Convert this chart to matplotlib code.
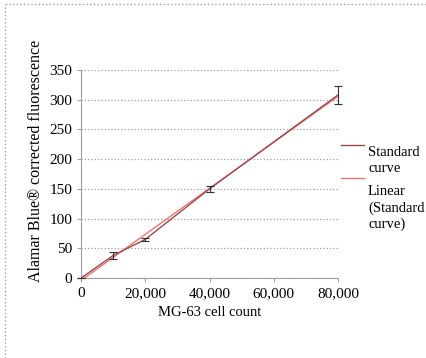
import numpy as np
import matplotlib.pyplot as plt
from matplotlib.lines import Line2D

plt.rcParams['font.family'] = ['Liberation Serif', 'DejaVu Serif']

# data
cells = [0, 10000, 20000, 40000, 80000]
fluor = [0, 38, 65, 150, 308]
err = [0, 6, 3, 5, 15]

# linear trendline fitted to the points
slope, icpt = np.polyfit(cells, fluor, 1)
fit_x = np.array([cells[0], cells[-1]])
fit_y = slope * fit_x + icpt

fig = plt.figure(figsize=(4.27, 3.58), dpi=100)
ax = fig.add_axes([0.19, 0.2235, 0.6016, 0.581])

ax.plot(cells, fluor, color='#9c4a4c', lw=1.0, label='Standard\ncurve', zorder=3)
eb = ax.errorbar(cells, fluor, yerr=err, fmt='none', ecolor='#333333', elinewidth=0.8,
                 capsize=3, capthick=0.8, zorder=4)
for art in eb.lines[1] + eb.lines[2]:
    art.set_clip_on(False)
ax.plot(fit_x, fit_y, color='#f27272', lw=1.0, label='Linear\n(Standard\ncurve)', zorder=2)

ax.set_xlim(0, 80000)
ax.set_ylim(0, 350)
ax.set_xticks([0, 20000, 40000, 60000, 80000])
ax.set_xticklabels(['0', '20,000', '40,000', '60,000', '80,000'])
ax.set_yticks(range(0, 351, 50))
ax.grid(axis='y', color='#a0a0a0', ls=':', lw=0.9)
ax.set_axisbelow(True)
for s in ['top', 'right']:
    ax.spines[s].set_visible(False)
for s in ['left', 'bottom']:
    ax.spines[s].set_color('#a0a0a0')
    ax.spines[s].set_linewidth(0.8)
ax.tick_params(axis='both', labelsize=11, colors='#a0a0a0', labelcolor='black',
               length=3, width=0.8)
ax.set_xlabel('MG-63 cell count', fontsize=10.5)
ax.set_ylabel('Alamar Blue® corrected fluorescence', fontsize=11.5)
ax.yaxis.set_label_coords(-0.145, 0.5625)

leg = ax.legend(loc='upper left', bbox_to_anchor=(1.012, 0.635), frameon=False,
                fontsize=10.5, borderpad=0, borderaxespad=0,
                handlelength=1.6, handletextpad=0.25, labelspacing=0.7)
# Excel puts the legend key beside the first line of a wrapped label
line_h = 11.0
for txt, hl in zip(leg.get_texts(), leg.get_lines()):
    txt.set_linespacing(1.3)
    n = txt.get_text().count('\n')
    hl.set_ydata(np.asarray(hl.get_ydata()) + n * line_h)

# dotted frame of the screenshot (top and left edges)
fig.add_artist(Line2D([5 / 427, 1], [1 - 4 / 358, 1 - 4 / 358], transform=fig.transFigure,
                      color='#a89aa8', ls=':', lw=1.0))
fig.add_artist(Line2D([5 / 427, 5 / 427], [0, 1 - 4 / 358], transform=fig.transFigure,
                      color='#a0a0a0', ls=':', lw=1.0))

fig.savefig('out.png', dpi=100)
